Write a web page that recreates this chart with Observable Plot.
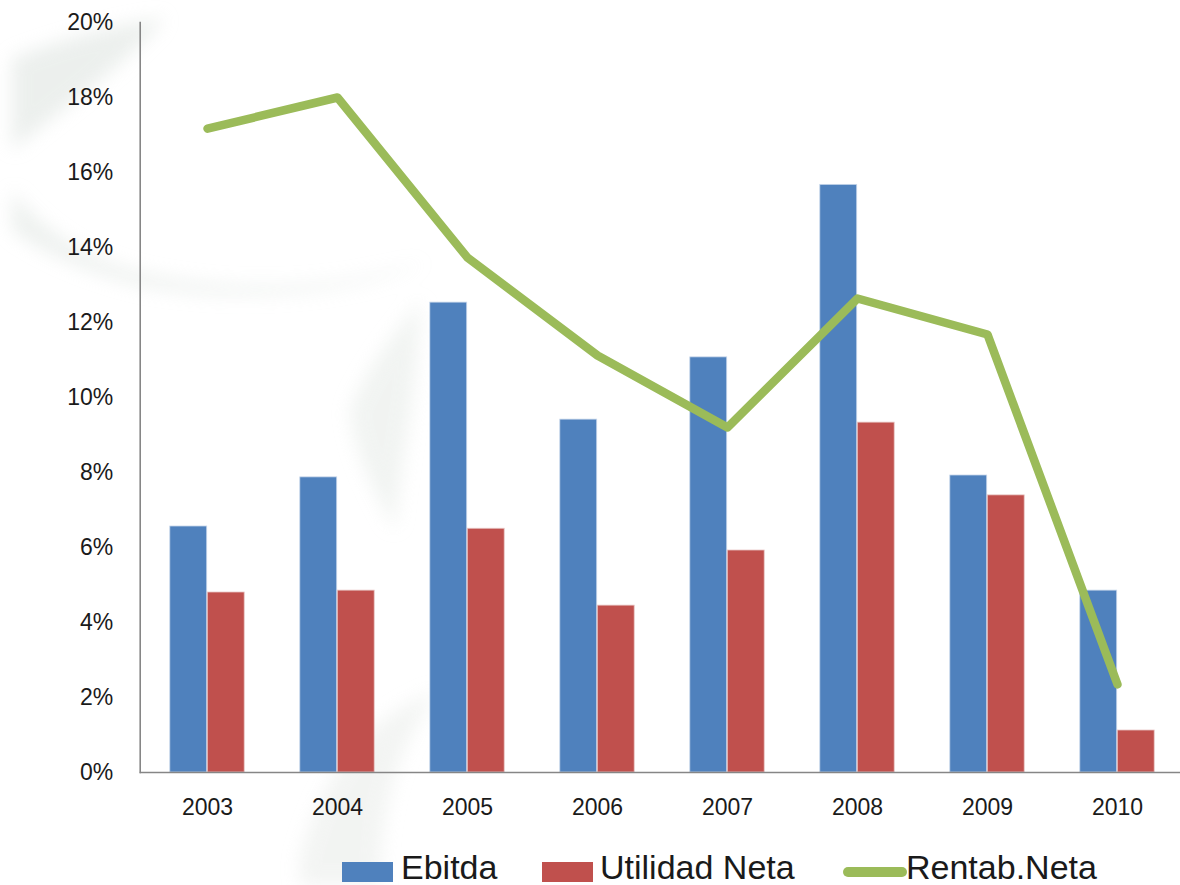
<!DOCTYPE html>
<html>
<head>
<meta charset="utf-8">
<script src="https://cdn.jsdelivr.net/npm/d3@7"></script>
<script src="https://cdn.jsdelivr.net/npm/@observablehq/plot@0.6"></script>
<style>
  html, body { margin: 0; padding: 0; background: #ffffff; }
  #wrap { position: relative; width: 1180px; height: 885px; overflow: hidden; }
  #bg { position: absolute; left: 0; top: 0; width: 1180px; height: 885px; z-index: 0; }
  #chart { position: relative; z-index: 1; }
  #legend { position: relative; z-index: 1; width: 1180px; height: 45px; font-family: "Liberation Sans", Arial, sans-serif; font-size: 34px; color: #1a1a1a; }
  #legend .sw { position: absolute; }
  #legend .tx { position: absolute; line-height: 34px; white-space: nowrap; }
</style>
</head>
<body>
<div id="wrap">
  <svg id="bg" width="1180" height="885" viewBox="0 0 1180 885">
    <defs>
      <filter id="soft" x="-30%" y="-30%" width="160%" height="160%"><feGaussianBlur stdDeviation="9"/></filter>
    </defs>
    <g filter="url(#soft)" opacity="0.55">
      <path d="M12,58 C60,40 110,26 165,18 C120,70 60,110 12,150 Z" fill="#dde3df"/>
      <path d="M12,190 C40,230 90,262 150,275 C230,292 330,292 425,262 C340,300 220,300 140,285 C80,270 40,250 12,230 Z" fill="#dfe5e1"/>
      <path d="M350,410 C370,360 400,330 420,300 C420,380 400,460 395,530 C380,500 355,460 350,410 Z" fill="#e6ebe7"/>
      <path d="M300,860 C320,780 360,720 440,690 C400,740 380,800 380,885 L300,885 Z" fill="#e9ece9"/>
    </g>
  </svg>
  <div id="chart"></div>
  <div id="legend"></div>
</div>
<script>
const years = ["2003", "2004", "2005", "2006", "2007", "2008", "2009", "2010"];
const ebitda = [6.56, 7.87, 12.53, 9.41, 11.07, 15.67, 7.92, 4.85];
const utilidadNeta = [4.8, 4.85, 6.5, 4.45, 5.92, 9.33, 7.39, 1.12];
const rentabNeta = [17.17, 18.0, 13.73, 11.12, 9.2, 12.64, 11.68, 2.35];
const yTicks = [0, 2, 4, 6, 8, 10, 12, 14, 16, 18, 20];
const seriesNames = ["Ebitda", "Utilidad Neta", "Rentab.Neta"];
const colors = ["#4F81BD", "#C0504D", "#9BBB59"];

const rowsE = years.map((y, i) => ({year: y, value: ebitda[i]}));
const rowsU = years.map((y, i) => ({year: y, value: utilidadNeta[i]}));
const rowsR = years.map((y, i) => ({year: y, value: rentabNeta[i]}));

const chart = Plot.plot({
  width: 1180,
  height: 840,
  marginTop: 22,
  marginBottom: 68,
  marginLeft: 139.7,
  marginRight: -4.6,
  style: {fontFamily: "Liberation Sans, Arial, sans-serif", fontSize: "23px", color: "#1a1a1a", background: "transparent"},
  x: {domain: years, padding: 0, label: null},
  y: {domain: [0, 20], label: null},
  marks: [
    Plot.barY(rowsE, {x: "year", y: "value", fill: colors[0], insetLeft: 27.8, insetRight: 65.3, stroke: "#c6d6ea", strokeWidth: 0.8}),
    Plot.barY(rowsU, {x: "year", y: "value", fill: colors[1], insetLeft: 65.3, insetRight: 27.8, stroke: "#e8c6c5", strokeWidth: 0.8}),
    Plot.ruleY([0], {stroke: "#868686", strokeWidth: 1.6}),
    Plot.frame({anchor: "left", stroke: "#868686", strokeWidth: 1.6}),
    Plot.line(rowsR, {x: "year", y: "value", stroke: colors[2], strokeWidth: 8.5, strokeLinecap: "round", strokeLinejoin: "round"}),
    Plot.axisY({ticks: yTicks, tickSize: 0, tickPadding: 27, tickFormat: d => d + "%", label: null, fontSize: 23}),
    Plot.axisX({tickSize: 0, tickPadding: 26, label: null, fontSize: 23})
  ]
});
document.getElementById("chart").appendChild(chart);

const legend = document.getElementById("legend");
const items = [
  {name: seriesNames[0], color: colors[0], type: "box", sx: 342, tx: 401},
  {name: seriesNames[1], color: colors[1], type: "box", sx: 542, tx: 600},
  {name: seriesNames[2], color: colors[2], type: "line", sx: 843, tx: 906}
];
for (const it of items) {
  const sw = document.createElement("div");
  sw.className = "sw";
  sw.style.background = it.color;
  if (it.type === "box") {
    sw.style.left = it.sx + "px"; sw.style.top = "22px"; sw.style.width = "51px"; sw.style.height = "20px";
  } else {
    sw.style.left = it.sx + "px"; sw.style.top = "27px"; sw.style.width = "64px"; sw.style.height = "10px"; sw.style.borderRadius = "5px";
  }
  legend.appendChild(sw);
  const tx = document.createElement("div");
  tx.className = "tx";
  tx.textContent = it.name;
  tx.style.left = it.tx + "px";
  tx.style.top = "10px";
  legend.appendChild(tx);
}
</script>
</body>
</html>
